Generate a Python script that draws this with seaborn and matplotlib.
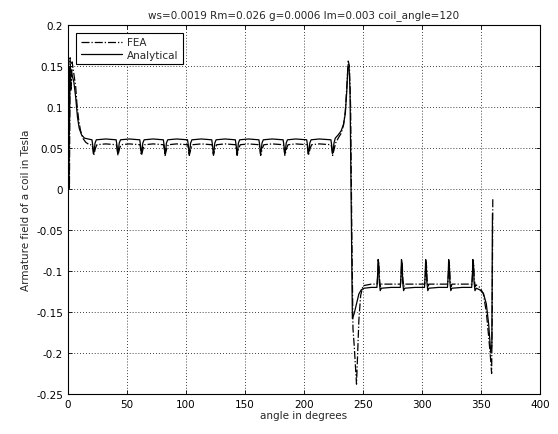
import matplotlib
matplotlib.use("Agg")
import matplotlib.pyplot as plt
import seaborn as sns
import pandas as pd

# ---------------- data ----------------
angle_analytical = [
    0, 0.5, 1.2, 1.8, 3, 5, 6.5, 8, 9.5, 11.5, 14, 17,
    20.3, 21.1, 21.6, 22.2, 22.9, 24, 32,
    40.8, 41.6, 42.1, 42.7, 43.4, 44.5, 52,
    60.8, 61.6, 62.1, 62.7, 63.4, 64.5, 72,
    80.8, 81.6, 82.1, 82.7, 83.4, 84.5, 92,
    101.3, 102.1, 102.6, 103.2, 103.9, 105, 113,
    121.8, 122.6, 123.1, 123.7, 124.4, 125.5, 133,
    141.8, 142.6, 143.1, 143.7, 144.4, 145.5, 153,
    161.8, 162.6, 163.1, 163.7, 164.4, 165.5, 173,
    182.3, 183.1, 183.6, 184.2, 184.9, 186, 193,
    202.3, 203.1, 203.6, 204.2, 204.9, 206, 213,
    222.8, 223.6, 224.1, 224.7, 225.4, 226.5, 229, 231.5, 233.5, 235, 236.2,
    237.2, 238.2, 239, 240, 241, 242.5, 244.5, 246.5, 248.5, 251, 257,
    261.8, 262.4, 262.8, 263.3, 263.8, 264.6, 265.5, 274,
    281.6, 282.2, 282.6, 283.1, 283.6, 284.4, 285.3, 294,
    302.1, 302.7, 303.1, 303.6, 304.1, 304.9, 305.8, 314,
    321.6, 322.2, 322.6, 323.1, 323.6, 324.4, 325.3, 334,
    342.1, 342.7, 343.1, 343.6, 344.1, 344.9, 346,
    349, 352, 354.5, 356.5, 358.3, 359.2, 359.7,
]
field_analytical = [
    0.030, 0.150, 0.070, 0.148, 0.142, 0.130, 0.112, 0.088, 0.074, 0.066, 0.062, 0.061,
    0.060, 0.052, 0.043, 0.046, 0.056, 0.060, 0.061,
    0.060, 0.052, 0.043, 0.046, 0.056, 0.060, 0.061,
    0.060, 0.052, 0.043, 0.046, 0.056, 0.060, 0.061,
    0.060, 0.052, 0.043, 0.046, 0.056, 0.060, 0.061,
    0.060, 0.052, 0.043, 0.046, 0.056, 0.060, 0.061,
    0.060, 0.052, 0.043, 0.046, 0.056, 0.060, 0.061,
    0.060, 0.052, 0.043, 0.046, 0.056, 0.060, 0.061,
    0.060, 0.052, 0.043, 0.046, 0.056, 0.060, 0.061,
    0.060, 0.052, 0.043, 0.046, 0.056, 0.060, 0.061,
    0.060, 0.052, 0.043, 0.046, 0.056, 0.060, 0.061,
    0.060, 0.052, 0.043, 0.046, 0.056, 0.062, 0.066, 0.071, 0.079, 0.092, 0.118,
    0.150, 0.148, 0.120, -0.020, -0.158, -0.152, -0.140, -0.128, -0.123, -0.121, -0.120,
    -0.120, -0.105, -0.086, -0.090, -0.113, -0.124, -0.121, -0.120,
    -0.120, -0.105, -0.086, -0.090, -0.113, -0.124, -0.121, -0.120,
    -0.120, -0.105, -0.086, -0.090, -0.113, -0.124, -0.121, -0.120,
    -0.120, -0.105, -0.086, -0.090, -0.113, -0.124, -0.121, -0.120,
    -0.120, -0.105, -0.086, -0.090, -0.113, -0.124, -0.121,
    -0.123, -0.127, -0.140, -0.165, -0.200, -0.190, -0.030,
]

angle_fea = [
    0, 0.7, 1.2, 1.8, 2.6, 3.5, 5, 6.5, 7.5, 9, 10.5, 12.5, 15, 18,
    20.5, 21.3, 21.8, 22.5, 23.3, 24.5, 32,
    41, 41.8, 42.3, 43, 43.8, 45, 52,
    61, 61.8, 62.3, 63, 63.8, 65, 72,
    81, 81.8, 82.3, 83, 83.8, 85, 92,
    101.5, 102.3, 102.8, 103.5, 104.3, 105.5, 113,
    122, 122.8, 123.3, 124, 124.8, 126, 133,
    142, 142.8, 143.3, 144, 144.8, 146, 153,
    162, 162.8, 163.3, 164, 164.8, 166, 173,
    182.5, 183.3, 183.8, 184.5, 185.3, 186.5, 193,
    202.5, 203.3, 203.8, 204.5, 205.3, 206.5, 213,
    223, 223.8, 224.3, 225, 225.8, 226.8, 229, 231.5, 233.5, 235, 236.5,
    237.5, 238.5, 239.5, 240.5, 241.5, 242.5, 243.5, 244.5, 245.5, 246.5, 248, 250, 257,
    262, 262.6, 263, 263.5, 264, 264.8, 265.7, 274,
    281.8, 282.4, 282.8, 283.3, 283.8, 284.6, 285.5, 294,
    302.3, 302.9, 303.3, 303.8, 304.3, 305.1, 306, 314,
    321.8, 322.4, 322.8, 323.3, 323.8, 324.6, 325.5, 334,
    342.3, 342.9, 343.3, 343.8, 344.3, 345.1, 346,
    349, 352, 354.5, 356.5, 358, 359, 359.5, 360,
]
field_fea = [
    -0.020, 0.100, 0.000, 0.160, 0.120, 0.155, 0.140, 0.125, 0.105, 0.085, 0.072, 0.062, 0.057, 0.054,
    0.054, 0.047, 0.041, 0.045, 0.050, 0.054, 0.055,
    0.054, 0.047, 0.041, 0.045, 0.050, 0.054, 0.055,
    0.054, 0.047, 0.041, 0.045, 0.050, 0.054, 0.055,
    0.054, 0.047, 0.041, 0.045, 0.050, 0.054, 0.055,
    0.054, 0.047, 0.041, 0.045, 0.050, 0.054, 0.055,
    0.054, 0.047, 0.041, 0.045, 0.050, 0.054, 0.055,
    0.054, 0.047, 0.041, 0.045, 0.050, 0.054, 0.055,
    0.054, 0.047, 0.041, 0.045, 0.050, 0.054, 0.055,
    0.054, 0.047, 0.041, 0.045, 0.050, 0.054, 0.055,
    0.054, 0.047, 0.041, 0.045, 0.050, 0.054, 0.055,
    0.054, 0.047, 0.041, 0.045, 0.050, 0.056, 0.062, 0.068, 0.078, 0.095, 0.130,
    0.156, 0.150, 0.100, -0.050, -0.170, -0.190, -0.215, -0.238, -0.200, -0.160, -0.130, -0.118, -0.116,
    -0.116, -0.102, -0.089, -0.093, -0.110, -0.119, -0.116, -0.116,
    -0.116, -0.102, -0.089, -0.093, -0.110, -0.119, -0.116, -0.116,
    -0.116, -0.102, -0.089, -0.093, -0.110, -0.119, -0.116, -0.116,
    -0.116, -0.102, -0.089, -0.093, -0.110, -0.119, -0.116, -0.116,
    -0.116, -0.102, -0.089, -0.093, -0.110, -0.119, -0.117,
    -0.120, -0.128, -0.150, -0.180, -0.205, -0.225, -0.150, -0.010,
]

x_ticks = [0, 50, 100, 150, 200, 250, 300, 350, 400]
y_ticks = [-0.25, -0.2, -0.15, -0.1, -0.05, 0, 0.05, 0.1, 0.15, 0.2]
y_tick_labels = ["-0.25", "-0.2", "-0.15", "-0.1", "-0.05", "0", "0.05", "0.1", "0.15", "0.2"]

title = "ws=0.0019 Rm=0.026 g=0.0006 lm=0.003 coil_angle=120"
x_label = "angle in degrees"
y_label = "Armature field of a coil in Tesla"

# ---------------- plot ----------------
sns.set_style("ticks")
plt.rcParams["font.family"] = ["DejaVu Sans"]
plt.rcParams["xtick.direction"] = "in"
plt.rcParams["ytick.direction"] = "in"

fig = plt.figure(figsize=(5.58, 4.35), dpi=100)
ax = fig.add_axes([68 / 558, 40 / 435, 472 / 558, 369 / 435])

df_fea = pd.DataFrame({"angle": angle_fea, "field": field_fea})
df_an = pd.DataFrame({"angle": angle_analytical, "field": field_analytical})

sns.lineplot(data=df_fea, x="angle", y="field", ax=ax, color="black",
             linestyle="-.", linewidth=0.9, sort=False, estimator=None, label="FEA")
sns.lineplot(data=df_an, x="angle", y="field", ax=ax, color="black",
             linestyle="-", linewidth=0.9, sort=False, estimator=None, label="Analytical")

ax.set_xlim(0, 400)
ax.set_ylim(-0.25, 0.2)
ax.set_xticks(x_ticks)
ax.set_xticklabels([str(t) for t in x_ticks])
ax.set_yticks(y_ticks)
ax.set_yticklabels(y_tick_labels)
ax.tick_params(labelsize=7.5, length=3, width=0.6, top=True, right=True, colors="black")
ax.grid(True, color="black", linestyle=(0, (1, 2.5)), linewidth=0.6)
for s in ax.spines.values():
    s.set_color("black")
    s.set_linewidth(0.8)
    s.set_visible(True)

ax.set_title(title, fontsize=7.5, pad=6)
ax.set_xlabel(x_label, fontsize=7.5, labelpad=1)
ax.set_ylabel(y_label, fontsize=7.5, labelpad=4)

leg = ax.legend(loc="upper left", fontsize=7.5, frameon=True, fancybox=False,
                handlelength=4.0, borderpad=0.4, labelspacing=0.2,
                borderaxespad=0.8, handletextpad=0.5)
leg.get_frame().set_edgecolor("black")
leg.get_frame().set_linewidth(0.8)
leg.get_frame().set_alpha(1)

fig.savefig("out.png", dpi=100, facecolor="white")
